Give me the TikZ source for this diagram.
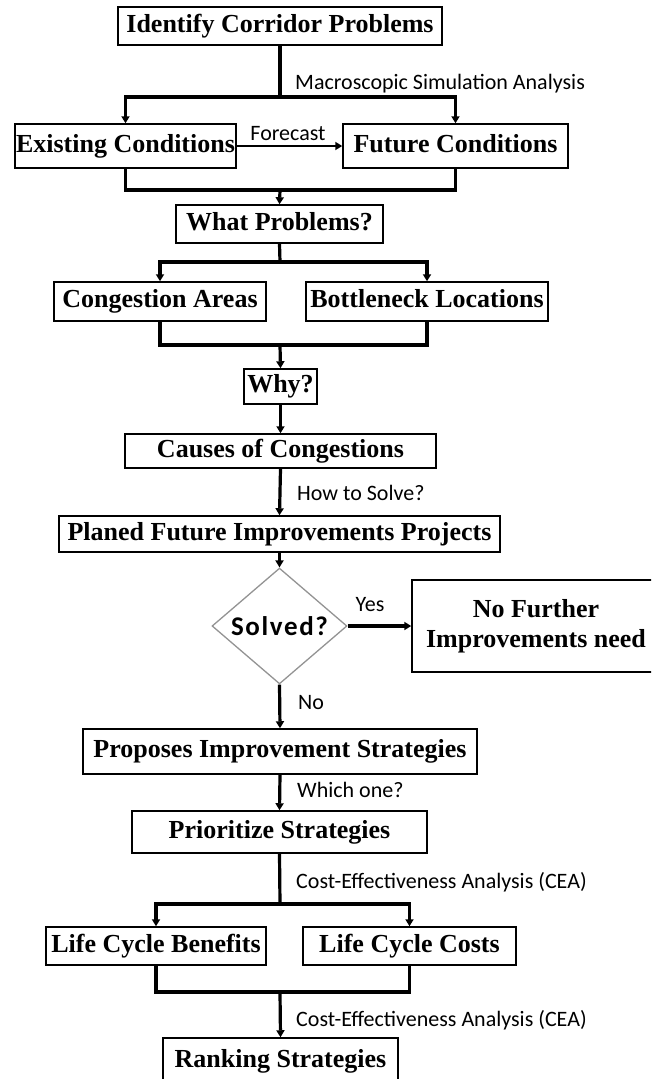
\documentclass[tikz,border=0pt]{standalone}
\usepackage{fontspec}
\setmainfont{Liberation Serif}
\newfontfamily\lblfam{Carlito}
\newfontfamily\solvfam[LetterSpace=6]{Carlito}
\usetikzlibrary{arrows.meta,shapes.geometric}
\tikzset{
  box/.style={draw, line width=1.5pt, inner sep=0pt, align=center,
    text height=16pt, text depth=4pt,
    font=\fontsize{26}{30}\selectfont\bfseries},
  dia/.style={diamond, draw=gray!85, line width=1.3pt, inner sep=0pt,
    font=\solvfam\fontsize{27}{30}\selectfont\bfseries},
  lbl/.style={inner sep=0pt, font=\lblfam\fontsize{22}{26}\selectfont},
  conn/.style={line width=3.2pt, line join=miter},
  arr/.style={conn, -{Triangle[length=7pt,width=8pt]}},
}
\begin{document}
\begin{tikzpicture}[x=1pt,y=1pt]
\useasboundingbox (0,0) rectangle (651,-1079);
\clip (0,0) rectangle (651,-1079);
% boxes
\node[box, minimum width=324pt, minimum height=38pt] (b1) at (280,-26) {Identify Corridor Problems};
\node[box, minimum width=221pt, minimum height=44pt] (ex) at (125.5,-146) {Existing Conditions};
\node[box, minimum width=225pt, minimum height=44pt] (fu) at (455.5,-146) {Future Conditions};
\node[box, minimum width=207pt, minimum height=38pt] (wp) at (279.5,-224) {What Problems?};
\node[box, minimum width=212pt, minimum height=39pt] (ca) at (160,-301.5) {Congestion Areas};
\node[box, minimum width=242pt, minimum height=39pt] (bl) at (427,-301.5) {Bottleneck Locations};
\node[box, minimum width=73pt, minimum height=35pt] (why) at (280.5,-386.5) {Why?};
\node[box, minimum width=311pt, minimum height=34pt] (cc) at (280.5,-451) {Causes of Congestions};
\node[box, minimum width=441pt, minimum height=36pt] (pf) at (279.5,-534) {Planed Future Improvements Projects};
\node[dia, minimum width=135pt, minimum height=100pt] (sv) at (279.5,-626) {Solved?};
\node[draw, line width=1.5pt, inner sep=0pt, align=center, font=\fontsize{26}{30}\selectfont\bfseries, minimum width=248pt, minimum height=92pt] (nf) at (536,-626) {No Further\\Improvements need};
\node[box, minimum width=394pt, minimum height=45pt] (pr) at (280,-751.5) {Proposes Improvement Strategies};
\node[box, minimum width=295pt, minimum height=42pt] (pz) at (279.5,-832) {Prioritize Strategies};
\node[box, minimum width=220pt, minimum height=38pt] (lb) at (156,-946) {Life Cycle Benefits};
\node[box, minimum width=213pt, minimum height=38pt] (lc) at (409.5,-946) {Life Cycle Costs};
\node[box, minimum width=235pt, minimum height=46pt] (rk) at (280.5,-1061) {Ranking Strategies};
% junctions
\coordinate (j1) at (280,-97);
\coordinate (j2) at (280,-190);
\coordinate (j3) at (280,-262);
\coordinate (j4) at (280,-345);
\coordinate (j5) at (280,-904);
\coordinate (j6) at (280,-992);
% connectors
\draw[conn] (b1.south) -- (j1);
\draw[arr] (j1) -| (ex.north);
\draw[arr] (j1) -| (fu.north);
\draw[arr, line width=2.4pt] (ex.east) -- (fu.west);
\draw[conn] (ex.south) |- (j2);
\draw[conn] (fu.south) |- (j2);
\draw[arr] (j2) -- (wp.north);
\draw[conn] (wp.south) -- (j3);
\draw[arr] (j3) -| (ca.north);
\draw[arr] (j3) -| (bl.north);
\draw[conn] (ca.south) |- (j4);
\draw[conn] (bl.south) |- (j4);
\draw[arr] (j4) -- (why.north);
\draw[arr] (why.south) -- (cc.north);
\draw[arr] (cc.south) -- (pf.north);
\draw[arr] (pf.south) -- (sv.north);
\draw[arr] (sv.east) -- (nf.west);
\draw[arr] (sv.south) -- (pr.north);
\draw[arr] (pr.south) -- (pz.north);
\draw[conn] (pz.south) -- (j5);
\draw[arr] (j5) -| (lb.north);
\draw[arr] (j5) -| (lc.north);
\draw[conn] (lb.south) |- (j6);
\draw[conn] (lc.south) |- (j6);
\draw[arr] (j6) -- (rk.north);
% labels
\node[lbl, anchor=west] (l1) at (295,-84) {Macroscopic Simulation Analysis};
\node[lbl] (l2) at (288,-134) {Forecast};
\node[lbl, anchor=west] (l3) at (297,-493) {How to Solve?};
\node[lbl] (l4) at (370,-605) {Yes};
\node[lbl, anchor=west] (l5) at (298,-703) {No};
\node[lbl, anchor=west] (l6) at (297,-790) {Which one?};
\node[lbl, anchor=west] (l7) at (296,-882) {Cost-Effectiveness Analysis (CEA)};
\node[lbl, anchor=west] (l8) at (296,-1020) {Cost-Effectiveness Analysis (CEA)};
\end{tikzpicture}
\end{document}
